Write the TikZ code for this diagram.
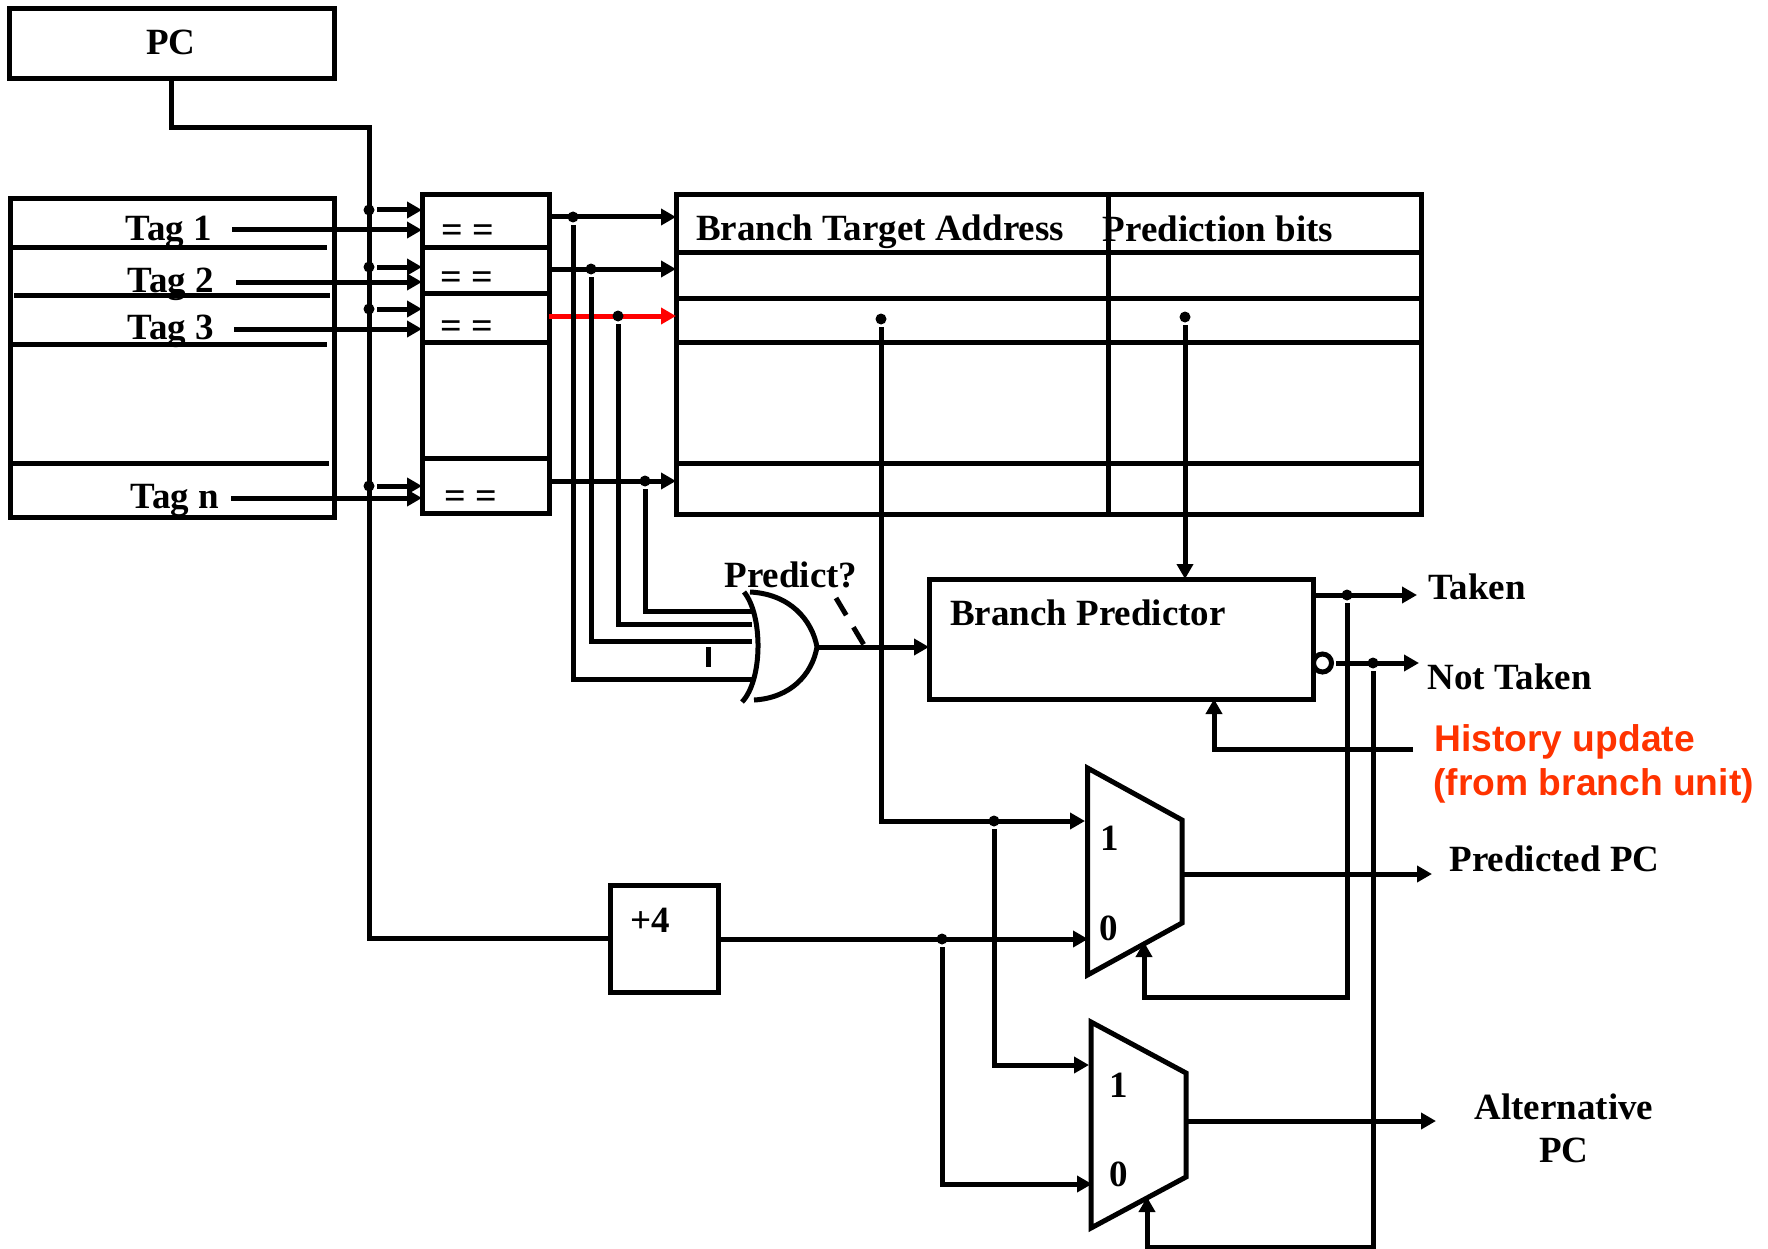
\documentclass[tikz,border=0pt]{standalone}
\usepackage{fontspec}
\setmainfont{Liberation Serif}
\newfontfamily\histfont{Liberation Sans}
\usepackage{tikz}
\usetikzlibrary{arrows.meta,positioning,calc}
\definecolor{histred}{HTML}{FF3300}

\begin{document}
\begin{tikzpicture}[x=1pt,y=-1pt,>={Triangle[length=15pt,width=16pt]},line width=5pt,
 box/.style={draw,rectangle,inner sep=0pt,outer sep=0pt,anchor=north west,line width=5pt},
 lbl/.style={inner sep=0pt,align=center,font=\fontsize{37}{43}\selectfont\bfseries},
 cmplbl/.style={inner sep=0pt,font=\fontsize{38}{38}\selectfont\bfseries},
 hist/.style={inner sep=0pt,anchor=west,text=histred,font=\fontsize{37.2}{38}\selectfont\histfont\bfseries},
 dot/.style={circle,fill,inner sep=0pt,minimum size=11pt},
 wire/.style={line join=miter}]
\useasboundingbox (0,0) rectangle (1768,1249);

% storage blocks
\node[box,minimum width=325pt,minimum height=70pt] (pc) at (9,9) {};
\node[lbl] (pclbl) at (171,42) {PC};
\node[box,minimum width=324pt,minimum height=318pt] (tags) at (10,199) {};
\node[box,minimum width=127pt,minimum height=318pt] (cmp) at (422,195) {};
\node[box,minimum width=745pt,minimum height=319pt] (tbl) at (676,195) {};
\node[box,minimum width=108pt,minimum height=107pt] (adder) at (610,885) {};
\node[lbl] (adderlbl) at (650,920) {+4};
\node[box,minimum width=384pt,minimum height=120pt] (pred) at (929,579) {};
\node[lbl] (predlbl) at (1088,613) {Branch Predictor};

% row lines
\foreach \y/\xa/\xb in {248/10/327,295/14/330,344/10/327,463/10/329}
 \draw (\xa,\y) -- (\xb,\y);
\foreach \y in {248,293,342,458}
 \draw (cmp.west |- 0,\y) -- (cmp.east |- 0,\y);
\foreach \y in {253,298,342,463}
 \draw (tbl.west |- 0,\y) -- (tbl.east |- 0,\y);
\draw (1108,195) -- (1108,514);

\node[lbl] (brtarget) at (880,232) {Branch Target Address};
\node[lbl] (predbits) at (1218,229) {Prediction bits};

% tags and comparators
\foreach \n/\txt/\tx/\ex/\ey/\cx/\cy/\ay/\by in {%
 1/Tag 1/169/232/230/468/234/210/217,
 2/Tag 2/171/236/282/467/281/267/269,
 3/Tag 3/171/234/329/467/330/309/316,
 n/Tag n/175/231/498/471/500/486/481}{
 \node[lbl] (tag\n) at (\tx,\ey+2) {\txt};
 \node[cmplbl] (eq\n) at (\cx,\cy) {= =};
 \coordinate (tagout\n) at (\ex,\ey);
 \coordinate (cmpin\n) at (cmp.west |- tagout\n);
 \draw[->] (tagout\n) -- (cmpin\n);
 \node[dot] (bus\n) at (369,\ay) {};
 \draw[->] (bus\n) -- (cmp.west |- bus\n);
 \coordinate (cmpout\n) at (cmp.east |- 0,\by);
}

% pc bus
\coordinate (busbend) at (369,128);
\draw[wire] (pc.south) |- (busbend) -- (busbend |- adder.west) -- (adder.west);

% comparator outputs, OR gate inputs
\draw[->,red] (cmpout3) -- (tbl.west |- cmpout3);
\foreach \n/\x/\y in {1/573/679,2/591/641,3/618/624,n/645/611}{
 \node[dot] (tap\n) at (\x,0 |- cmpout\n) {};
 \draw[wire] (tap\n) |- (\x,\y) -- (752,\y);
}
\foreach \n in {1,2,n}
 \draw[->] (cmpout\n) -- (tbl.west |- cmpout\n);

% or gate
\coordinate (orout) at (817,647);
\draw (744,592) .. controls (763,615) and (763,680) .. (742,702);
\draw (750,592) .. controls (790,594) and (812,620) .. (orout) .. controls (812,675) and (790,698) .. (754,700);
\draw (708,647) -- (708,667);
\draw[->] (orout) -- (pred.west |- orout);
\draw[dash pattern=on 20pt off 14pt] (836,598) -- (864,645);
\node[lbl] (predq) at (791,575) {Predict?};

% table read outs
\node[dot] (tgtdot) at (881,319) {};
\node[dot] (bitdot) at (1185,317) {};
\draw[->] (bitdot) -- (bitdot |- pred.north);

% muxes
\draw[line join=miter] (1087.5,768) coordinate (muxa) -- (1182,820) -- (1182,923) -- (1087.5,975) -- cycle;
\draw[line join=miter] (1091,1022) coordinate (muxb) -- (1186,1073) -- (1186,1177) -- (1091,1228) -- cycle;
\node[lbl] (muxaone) at (1110,838) {1};
\node[lbl] (muxazero) at (1109,928) {0};
\node[lbl] (muxbone) at (1118.5,1085) {1};
\node[lbl] (muxbzero) at (1118.5,1174) {0};

\node[dot] (seldot) at (994,821) {};
\node[dot] (incdot) at (942,939) {};
\coordinate (muxain) at (1085,821);
\coordinate (muxainc) at (1088,939);
\coordinate (muxbin) at (1089,1065);
\coordinate (muxbinc) at (1092,1184);
\draw[->,wire] (tgtdot) |- (muxain);
\draw[->] (adder.east |- incdot) -- (muxainc);
\draw[->,wire] (seldot) |- (muxbin);
\draw[->,wire] (incdot) |- (muxbinc);

% outputs
\node[circle,draw,line width=5pt,fill=white,inner sep=0pt,outer sep=0pt,minimum size=18pt] (notbub) at (1322.5,663) {};
\coordinate (takenend) at (1417,595);
\coordinate (notend) at (1419,663);
\coordinate (predend) at (1432,874);
\coordinate (altend) at (1436,1121);
\draw[->] (pred.east |- takenend) -- (takenend);
\draw[->] (1336,663) -- (notend);
\draw[->] (1182,874) -- (predend);
\draw[->] (1186,1121) -- (altend);
\node[dot] (takendot) at (1347,595) {};
\node[dot] (notdot) at (1373,663) {};
\coordinate (muxasel) at (1144,942);
\coordinate (muxbsel) at (1147,1197);
\draw[->,wire] (takendot) |- (1144,997) -- (muxasel);
\draw[->,wire] (notdot) |- (1147,1247) -- (muxbsel);

% history update
\coordinate (histin) at (1413,749);
\coordinate (histend) at (1214,699);
\draw[->,wire] (histin) -| (histend);

\node[lbl,anchor=west] (takenlbl) at (1426,587) {Taken};
\node[lbl,anchor=west] (notlbl) at (1425,677) {Not Taken};
\node[lbl,anchor=west] (predpc) at (1447,859) {Predicted PC};
\node[lbl] (altpc) at (1564,1128) {Alternative\\PC};
\node[hist] (histone) at (1432,742) {History update};
\node[hist] (histtwo) at (1431,786) {(from branch unit)};
\end{tikzpicture}
\end{document}
